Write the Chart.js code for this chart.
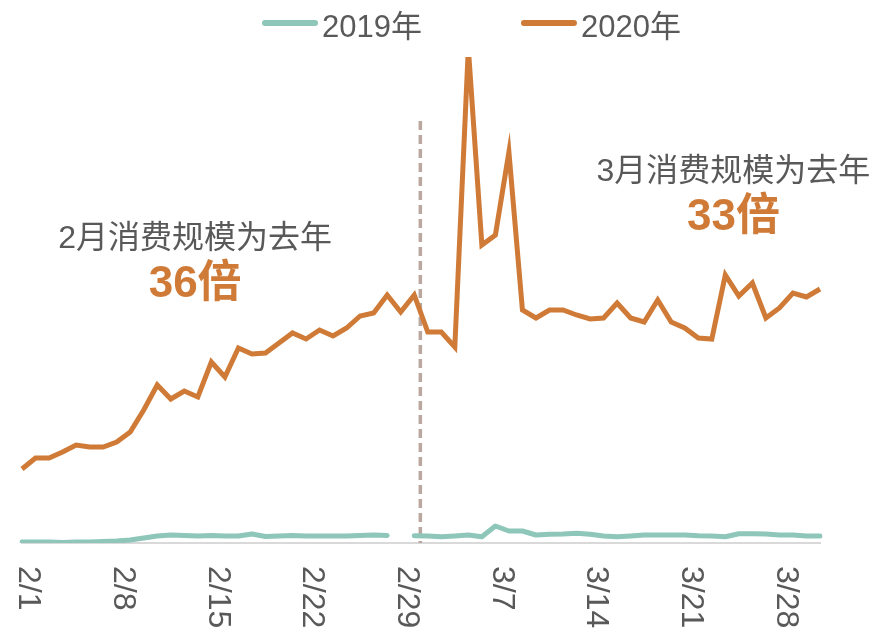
<!DOCTYPE html>
<html lang="zh">
<head>
<meta charset="UTF-8">
<title>2019年 vs 2020年 消费规模</title>
<script src="https://cdn.jsdelivr.net/npm/chart.js@4.4.1/dist/chart.umd.min.js"></script>
<style>
  html, body { margin: 0; padding: 0; background: #fff; }
</style>
</head>
<body>
<canvas id="chart" width="872" height="635"></canvas>
<script>
// every day from 2/1 to 3/31 (2020)
const days = [];
for (let d = 1; d <= 29; d++) days.push('2/' + d);
for (let d = 1; d <= 31; d++) days.push('3/' + d);

const tickLabels = ['2/1', '2/8', '2/15', '2/22', '2/29', '3/7', '3/14', '3/21', '3/28'];

// 2019 has no 2/29, hence the null
const sales2019 = [
  1, 1, 1, 0.5, 1, 1, 1.5, 2, 3, 5, 7, 8, 7.5, 7, 7.5, 7, 7, 9, 6.5, 7,
  7.5, 7, 7, 7, 7, 7.5, 8, 7.5, null,
  7.3, 7, 6.3, 7, 8, 6.3, 17, 12, 12, 8, 8.7, 9, 9.7, 8.7, 7, 6.3,
  7, 8, 8, 8, 8, 7.3, 7, 6.3, 9.3, 9.3, 9, 8, 8, 7, 7
];

const sales2020 = [
  74, 85, 85, 91, 98, 96, 96, 101, 111, 133, 158, 144, 152, 146, 181, 166, 195, 189, 190, 200,
  210, 204, 213, 207, 215, 227, 230, 248, 231,
  248, 211, 211, 196, 495, 298, 308, 391, 233, 225, 233, 233, 228, 224, 225, 240,
  225, 221, 243, 221, 215, 205, 204, 268, 247, 260, 225, 235, 250, 246, 254
];

const noteTexts = ['2月消费规模为去年', '3月消费规模为去年'];
const noteMultiples = ['36倍', '33倍'];

const FONT = '"Liberation Sans", "Noto Sans CJK SC", sans-serif';
const TEXT_GREY = '#595959';
const ORANGE = '#cf7b37';
const TEAL = '#8ec6b9';

const overlay = {
  id: 'overlay',
  beforeDatasetsDraw(chart) {
    const {ctx, scales: {x, y}, chartArea} = chart;
    // dashed divider between Feb and March
    const dx = x.getPixelForValue(29.45);
    ctx.save();
    ctx.strokeStyle = '#baa8a0';
    ctx.lineWidth = 3.5;
    ctx.setLineDash([9, 5]);
    ctx.beginPath();
    ctx.moveTo(dx, y.getPixelForValue(422));
    ctx.lineTo(dx, chartArea.bottom);
    ctx.stroke();
    ctx.restore();
  },
  afterDraw(chart) {
    const {ctx, scales: {x, y}, chartArea} = chart;
    ctx.save();

    // x tick labels, turned clockwise
    ctx.fillStyle = TEXT_GREY;
    ctx.font = '32px ' + FONT;
    ctx.textAlign = 'left';
    ctx.textBaseline = 'middle';
    tickLabels.forEach(lbl => {
      const px = x.getPixelForValue(days.indexOf(lbl)) + 6;
      ctx.save();
      ctx.translate(px, chartArea.bottom + 23);
      ctx.rotate(Math.PI / 2);
      ctx.fillText(lbl, 0, 0);
      ctx.restore();
    });

    // notes
    const spots = [[12.8, 304, 258], [52.6, 371, 325]];
    spots.forEach((s, i) => {
      const nx = x.getPixelForValue(s[0]);
      ctx.textAlign = 'center';
      ctx.fillStyle = TEXT_GREY;
      ctx.font = '32px ' + FONT;
      ctx.fillText(noteTexts[i], nx, y.getPixelForValue(s[1]));
      ctx.fillStyle = ORANGE;
      ctx.font = 'bold 44px ' + FONT;
      ctx.fillText(noteMultiples[i], nx, y.getPixelForValue(s[2]));
    });

    // legend
    let lx = 262;
    const ly = 23;
    ctx.font = '31px ' + FONT;
    ctx.textAlign = 'left';
    ctx.textBaseline = 'alphabetic';
    chart.data.datasets.forEach(ds => {
      ctx.strokeStyle = ds.borderColor;
      ctx.lineWidth = 6;
      ctx.lineCap = 'round';
      ctx.beginPath();
      ctx.moveTo(lx + 3, ly);
      ctx.lineTo(lx + 53, ly);
      ctx.stroke();
      ctx.fillStyle = TEXT_GREY;
      ctx.fillText(ds.label, lx + 60, 37);
      lx += 60 + ctx.measureText(ds.label).width + 99;
    });

    ctx.restore();
  }
};

new Chart(document.getElementById('chart'), {
  type: 'line',
  data: {
    labels: days,
    datasets: [
      {
        label: '2019年',
        data: sales2019,
        borderColor: TEAL,
        backgroundColor: TEAL,
        borderWidth: 5,
        pointRadius: 0,
        borderCapStyle: 'round',
        borderJoinStyle: 'round',
        spanGaps: false
      },
      {
        label: '2020年',
        data: sales2020,
        borderColor: ORANGE,
        backgroundColor: ORANGE,
        borderWidth: 5,
        pointRadius: 0,
        borderJoinStyle: 'miter',
        clip: {left: 10, right: 10, top: 0, bottom: 10}
      }
    ]
  },
  options: {
    responsive: false,
    animation: false,
    devicePixelRatio: 1,
    layout: { padding: { left: 22, right: 52, top: 57, bottom: 92 } },
    plugins: {
      legend: { display: false },
      tooltip: { enabled: false }
    },
    scales: {
      x: {
        offset: false,
        ticks: { display: false },
        grid: { display: false, drawTicks: false },
        border: { display: true, color: '#d9d9d9', width: 2 }
      },
      y: {
        display: false,
        min: 0,
        max: 486
      }
    }
  },
  plugins: [overlay]
});
</script>
</body>
</html>
